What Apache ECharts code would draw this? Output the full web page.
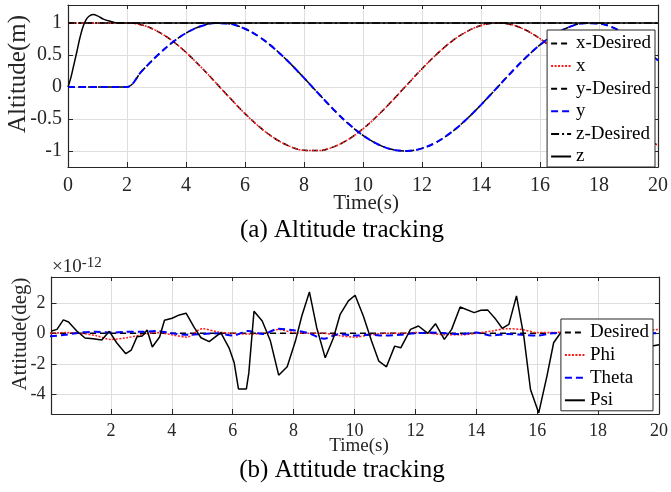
<!DOCTYPE html>
<html>
<head>
<meta charset="utf-8">
<script src="https://cdn.jsdelivr.net/npm/echarts@6/dist/echarts.min.js"></script>
<style>
  html, body { margin: 0; padding: 0; background: #fff; }
  #chart { width: 671px; height: 492px; }
</style>
</head>
<body>
<div id="chart"></div>
<script>
// time base of the position plot (s)
const t = [0,0.5,1,1.5,2,2.5,3,3.5,4,4.5,5,5.5,6,6.5,7,7.5,8,8.5,9,9.5,10,
  10.5,11,11.5,12,12.5,13,13.5,14,14.5,15,15.5,16,16.5,17,17.5,18,18.5,19,19.5,20];

const xDesired = [1,1,1,1,1,0.969,0.878,0.732,0.540,0.315,0.071,-0.178,-0.416,-0.628,-0.801,-0.924,
  -0.990,-0.994,-0.936,-0.821,-0.654,-0.446,-0.211,0.038,0.284,0.512,0.709,0.861,0.960,1.000,
  0.977,0.893,0.754,0.568,0.347,0.105,-0.146,-0.390,-0.602,-0.780,-0.911];
// x follows the reference exactly
const xPos = xDesired;

const yDesired = [0,0,0,0,0,0.247,0.479,0.682,0.841,0.949,0.997,0.984,0.909,0.778,0.598,0.382,
  0.141,-0.108,-0.351,-0.572,-0.757,-0.895,-0.978,-0.999,-0.959,-0.860,-0.706,-0.508,-0.279,-0.033,
  0.215,0.450,0.657,0.822,0.938,0.994,0.989,0.922,0.798,0.624,0.412];
const yPos = yDesired;

const zDesired = [[0,1],[20,1]];
const zPos = [[0,0],[0.1,0.15],[0.2,0.35],[0.3,0.55],[0.4,0.76],[0.5,0.93],[0.6,1.04],[0.7,1.1],
  [0.85,1.13],[1.0,1.11],[1.2,1.06],[1.4,1.03],[1.7,1.0],[2,1],[3,1],[20,1]];

// attitude, units of 1e-12 deg
const phi = [0,0.05,0,-0.15,-0.4,-0.3,-0.1,0.05,-0.1,-0.25,
  0.3,0.1,0,-0.05,0,0.25,0.05,0,0,-0.15,
  -0.25,-0.1,0,0,0.05,0,-0.1,-0.1,0,0.15,
  0.3,0.25,0.05,0.05,0.1,0.1,0.05,0.1,0.15,0.2,0.25];
const theta = [-0.2,-0.1,0.05,0.1,0.05,0.1,0.1,0.15,0,-0.1,
  -0.05,0,-0.15,0.15,-0.05,0.3,0.2,0,-0.35,-0.05,
  -0.15,-0.1,-0.15,-0.1,0,0.05,0,-0.05,0.05,-0.15,
  -0.05,-0.1,-0.15,0,0.05,0.05,0,0,0,0,0];
const attDesired = [[0,0],[20,0]];
const psi = [[0.05,0.15],[0.23,0.26],[0.44,0.88],[0.61,0.74],[0.88,0.15],[1.15,-0.31],[1.42,-0.35],
  [1.70,-0.44],[1.95,0.13],[2.19,-0.62],[2.49,-1.34],[2.67,-1.1],[2.86,-0.22],[3.03,-0.18],
  [3.19,0.22],[3.36,-0.9],[3.60,-0.24],[3.76,0.86],[4.01,0.99],[4.25,1.21],[4.47,1.32],
  [4.74,0.37],[4.96,-0.29],[5.23,-0.55],[5.61,0.04],[5.88,-0.95],[6.05,-1.94],[6.19,-3.65],
  [6.45,-3.65],[6.53,-2.6],[6.70,1.45],[6.97,0.81],[7.24,-0.51],[7.51,-2.75],[7.79,-2.2],
  [8.06,-0.51],[8.27,1.14],[8.52,2.72],[8.76,0.37],[9.04,-1.61],[9.31,-0.29],[9.53,1.25],
  [9.80,2.13],[10.02,2.5],[10.29,1.14],[10.56,-0.51],[10.80,-1.83],[11.05,-2.2],[11.32,-0.84],
  [11.52,-0.95],[11.84,0.26],[12.10,0.48],[12.41,0.0],[12.66,0.63],[12.95,-0.40],[13.19,0.26],
  [13.47,1.73],[13.93,1.36],[14.15,1.52],[14.37,1.54],[14.64,0.92],[14.85,0.33],[15.07,0.59],
  [15.32,2.46],[15.56,-0.18],[15.78,-3.69],[16.05,-5.23],[16.32,-2.81],[16.54,-0.62],[16.81,0.15],
  [17.2,0.3],[17.6,-0.4],[18.0,0.5],[18.4,-0.6],[18.8,0.4],[19.2,-0.3],[19.6,-0.9],[20,-0.75]];

const FONT = 'Liberation Serif';
const INK = '#262626';

const pairs = (xs, ys) => xs.map((v, i) => [v, ys[i]]);

const frameAxis = (extra) => Object.assign({
  type: 'value',
  axisLine: { show: true, onZero: false, lineStyle: { color: INK, width: 1.2 } },
  axisTick: { show: true, inside: true, length: 5, lineStyle: { color: INK } },
  splitLine: { show: true, lineStyle: { color: '#dedede', width: 1 } },
  axisLabel: { color: INK, fontFamily: FONT, fontSize: 19, showMinLabel: false, showMaxLabel: false }
}, extra);

const mirrorAxis = (extra) => Object.assign({
  type: 'value',
  axisLine: { show: true, onZero: false, lineStyle: { color: INK, width: 1.2 } },
  axisTick: { show: true, inside: true, length: 4, lineStyle: { color: INK } },
  splitLine: { show: false },
  axisLabel: { show: false }
}, extra);

const lineSeries = (name, data, xi, yi, color, type, width, smooth) => ({
  name, type: 'line', data,
  xAxisIndex: xi, yAxisIndex: yi,
  symbol: 'none', smooth: smooth || false,
  lineStyle: { color, type, width },
  itemStyle: { color },
  z: 3
});

const legendBox = (names, right, top) => ({
  data: names,
  orient: 'vertical',
  right, top,
  padding: [4, 4, 1, 3],
  itemGap: 3.6,
  itemWidth: 20,
  itemHeight: 14,
  itemStyle: { opacity: 0 },
  backgroundColor: '#fff',
  borderColor: INK,
  borderWidth: 1,
  borderRadius: 0,
  textStyle: { fontFamily: FONT, fontSize: 19, color: '#000' },
  z: 10
});

const chart = echarts.init(document.getElementById('chart'));

chart.setOption({
  animation: false,
  backgroundColor: '#fff',
  grid: [
    { left: 68, right: 9, top: 5, height: 162 },
    { left: 51.5, right: 8, top: 277, height: 137 }
  ],
  xAxis: [
    frameAxis({ gridIndex: 0, min: 0, max: 20, interval: 2,
      axisLabel: { color: INK, fontFamily: FONT, fontSize: 20, margin: 9 } }),
    frameAxis({ gridIndex: 1, min: 0.05, max: 20, minInterval: 2, maxInterval: 2,
      axisLabel: { color: INK, fontFamily: FONT, fontSize: 18, margin: 8, showMinLabel: false } }),
    mirrorAxis({ gridIndex: 0, position: 'top', min: 0, max: 20, interval: 2 }),
    mirrorAxis({ gridIndex: 1, position: 'top', min: 0.05, max: 20, minInterval: 2, maxInterval: 2 })
  ],
  yAxis: [
    frameAxis({ gridIndex: 0, min: -1.25, max: 1.28, minInterval: 0.5, maxInterval: 0.5, splitNumber: 5,
      axisLabel: { color: INK, fontFamily: FONT, fontSize: 20, margin: 6, showMinLabel: false, showMaxLabel: false } }),
    frameAxis({ gridIndex: 1, min: -5.3, max: 3.7, minInterval: 2, maxInterval: 2, splitNumber: 5,
      axisLabel: { color: INK, fontFamily: FONT, fontSize: 18, margin: 6, showMinLabel: false, showMaxLabel: false } }),
    mirrorAxis({ gridIndex: 0, position: 'right', min: -1.25, max: 1.28, minInterval: 0.5, maxInterval: 0.5, splitNumber: 5 }),
    mirrorAxis({ gridIndex: 1, position: 'right', min: -5.3, max: 3.7, minInterval: 2, maxInterval: 2, splitNumber: 5 })
  ],
  legend: [
    legendBox(['x-Desired', 'x', 'y-Desired', 'y', 'z-Desired', 'z'], 16, 30),
    legendBox(['Desired', 'Phi', 'Theta', 'Psi'], 18, 319)
  ],
  series: [
    lineSeries('x-Desired', pairs(t, xDesired), 0, 0, '#000', [6, 4], 1.5, 0.35),
    lineSeries('x', pairs(t, xPos), 0, 0, '#ff1a1a', [2, 1.5], 1.5, 0.35),
    lineSeries('y-Desired', pairs(t, yDesired), 0, 0, '#000', [6, 4], 1.5, 0.35),
    lineSeries('y', pairs(t, yPos), 0, 0, '#0000ff', [7, 4], 2, 0.35),
    lineSeries('z-Desired', zDesired, 0, 0, '#000', [8, 3, 2, 3], 1.5),
    lineSeries('z', zPos, 0, 0, '#000', 'solid', 1.5, 0.35),
    lineSeries('Desired', attDesired, 1, 1, '#000', [6, 4], 1.5),
    lineSeries('Phi', pairs(t, phi), 1, 1, '#ff1a1a', [2, 1.5], 1.5, 0.3),
    lineSeries('Theta', pairs(t, theta), 1, 1, '#0000ff', [7, 4], 2, 0.3),
    lineSeries('Psi', psi, 1, 1, '#000', 'solid', 1.5)
  ],
  graphic: [
    { type: 'text', x: 18, y: 74, rotation: Math.PI / 2,
      style: { text: 'Altitude(m)', fontFamily: FONT, fontSize: 25, fill: INK, align: 'center', verticalAlign: 'middle' } },
    { type: 'text', x: 366, y: 203,
      style: { text: 'Time(s)', fontFamily: FONT, fontSize: 21, fill: INK, align: 'center', verticalAlign: 'middle' } },
    { type: 'text', x: 342, y: 218,
      style: { text: '(a) Altitude tracking', fontFamily: FONT, fontSize: 25, fill: '#000', align: 'center', verticalAlign: 'top' } },
    { type: 'text', x: 20, y: 334, rotation: Math.PI / 2,
      style: { text: 'Attitude(deg)', fontFamily: FONT, fontSize: 21, fill: INK, align: 'center', verticalAlign: 'middle' } },
    { type: 'text', x: 52, y: 256,
      style: { text: '×10{s|-12}', fontFamily: FONT, fontSize: 19, fill: INK, align: 'left', verticalAlign: 'top',
        rich: { s: { fontFamily: FONT, fontSize: 15, fill: INK, verticalAlign: 'top', padding: [0, 0, 8, 0] } } } },
    { type: 'text', x: 359, y: 446,
      style: { text: 'Time(s)', fontFamily: FONT, fontSize: 19, fill: INK, align: 'center', verticalAlign: 'middle' } },
    { type: 'text', x: 342, y: 458,
      style: { text: '(b) Attitude tracking', fontFamily: FONT, fontSize: 25, fill: '#000', align: 'center', verticalAlign: 'top' } }
  ]
});
</script>
</body>
</html>
